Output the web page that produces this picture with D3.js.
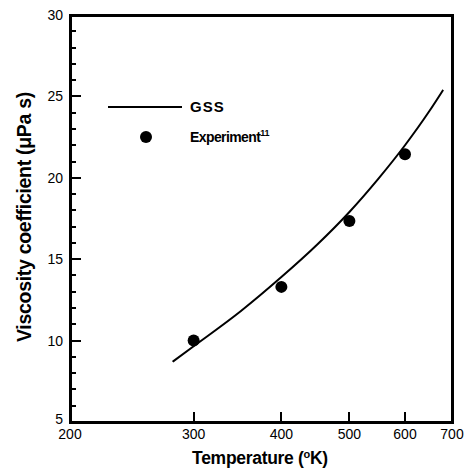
<!DOCTYPE html>
<html>
<head>
<meta charset="utf-8">
<script src="https://cdnjs.cloudflare.com/ajax/libs/d3/7.8.5/d3.min.js"></script>
<style>
	body { margin: 0; background: #fff; }
</style>
</head>
<body>
<div id="chart"></div>
<script>
	"use strict";

	// GSS model curve
	var gssTemp = [280, 300, 350, 400, 450, 500, 550, 600, 650, 680],
		gssVisc = [8.7, 9.65, 11.8, 13.9, 15.9, 17.9, 19.95, 22.0, 24.1, 25.4];

	// experiment (ref. 11)
	var expTemp = [300, 400, 500, 600],
		expVisc = [10.0, 13.3, 17.35, 21.45];

	var xTicks = [200, 300, 400, 500, 600, 700],
		yTicks = [5, 10, 15, 20, 25, 30],
		yMinor = d3.range(5, 31, 1);

	var font = "'Liberation Sans', Arial, sans-serif",
		plotLeft = 70,
		plotRight = 452,
		plotTop = 15,
		plotBottom = 422;

	var x = d3.scaleLog()
			.domain([200, 700])
			.range([plotLeft, plotRight]),
		y = d3.scaleLinear()
			.domain([5, 30])
			.range([plotBottom, plotTop]);

	var svg = d3.select("#chart")
		.append("svg")
		.attr("width", 467)
		.attr("height", 470)
		.attr("font-family", font);

	// inward tick marks, snapped to whole pixels
	var ticks = svg.append("g")
		.attr("stroke", "#000")
		.attr("shape-rendering", "crispEdges");

	ticks.selectAll("line.y-minor")
		.data(yMinor)
		.enter()
		.append("line")
		.attr("class", "y-minor")
		.attr("x1", plotLeft).attr("x2", plotLeft + 6)
		.attr("y1", function(d) { return Math.round(y(d)); })
		.attr("y2", function(d) { return Math.round(y(d)); })
		.attr("stroke-width", 2);

	ticks.selectAll("line.y-major")
		.data(yTicks)
		.enter()
		.append("line")
		.attr("class", "y-major")
		.attr("x1", plotLeft).attr("x2", plotLeft + 11)
		.attr("y1", function(d) { return Math.round(y(d)); })
		.attr("y2", function(d) { return Math.round(y(d)); })
		.attr("stroke-width", 2.5);

	ticks.selectAll("line.x-major")
		.data(xTicks)
		.enter()
		.append("line")
		.attr("class", "x-major")
		.attr("x1", function(d) { return Math.round(x(d)); })
		.attr("x2", function(d) { return Math.round(x(d)); })
		.attr("y1", plotBottom).attr("y2", plotBottom - 10)
		.attr("stroke-width", 2.5);

	// tick labels
	svg.selectAll("text.y-label")
		.data(yTicks)
		.enter()
		.append("text")
		.attr("class", "y-label")
		.attr("x", plotLeft - 7)
		.attr("y", function(d) { return y(d) + (d === 5 ? 2 : 5); })
		.attr("text-anchor", "end")
		.attr("font-size", 14)
		.text(function(d) { return d; });

	svg.selectAll("text.x-label")
		.data(xTicks)
		.enter()
		.append("text")
		.attr("class", "x-label")
		.attr("x", function(d) { return x(d); })
		.attr("y", plotBottom + 17)
		.attr("text-anchor", "middle")
		.attr("font-size", 14)
		.text(function(d) { return d; });

	// frame
	svg.append("rect")
		.attr("x", plotLeft)
		.attr("y", plotTop)
		.attr("width", plotRight - plotLeft)
		.attr("height", plotBottom - plotTop)
		.attr("fill", "none")
		.attr("stroke", "#000")
		.attr("stroke-width", 3)
		.attr("shape-rendering", "crispEdges");

	// GSS curve
	var line = d3.line()
		.x(function(d, i) { return x(gssTemp[i]); })
		.y(function(d) { return y(d); })
		.curve(d3.curveMonotoneX);

	svg.append("path")
		.datum(gssVisc)
		.attr("d", line)
		.attr("fill", "none")
		.attr("stroke", "#000")
		.attr("stroke-width", 2);

	// experiment points
	svg.selectAll("circle.exp")
		.data(expVisc)
		.enter()
		.append("circle")
		.attr("class", "exp")
		.attr("cx", function(d, i) { return x(expTemp[i]); })
		.attr("cy", function(d) { return y(d); })
		.attr("r", 6)
		.attr("fill", "#000");

	// legend
	svg.append("line")
		.attr("x1", 108).attr("x2", 182)
		.attr("y1", 107).attr("y2", 107)
		.attr("stroke", "#000")
		.attr("stroke-width", 2);
	svg.append("text")
		.attr("x", 190).attr("y", 112)
		.attr("font-size", 15)
		.attr("font-weight", "bold")
		.attr("letter-spacing", 1)
		.text("GSS");
	svg.append("circle")
		.attr("cx", 146).attr("cy", 137)
		.attr("r", 6)
		.attr("fill", "#000");
	var expLabel = svg.append("text")
		.attr("x", 190).attr("y", 142)
		.attr("font-size", 14)
		.attr("font-weight", "bold")
		.attr("letter-spacing", -0.6);
	expLabel.append("tspan").text("Experiment");
	expLabel.append("tspan")
		.attr("font-size", 9)
		.attr("dy", -6)
		.attr("letter-spacing", -0.3)
		.text("11");

	// axis titles
	var xTitle = svg.append("text")
		.attr("x", 260)
		.attr("y", 464)
		.attr("text-anchor", "middle")
		.attr("font-size", 17.5)
		.attr("font-weight", "bold")
		.attr("letter-spacing", -0.3);
	xTitle.append("tspan").text("Temperature (");
	xTitle.append("tspan").attr("font-size", 11).attr("dy", -6).text("o");
	xTitle.append("tspan").attr("dy", 6).text("K)");

	svg.append("text")
		.attr("transform", "translate(31,217) rotate(-90)")
		.attr("text-anchor", "middle")
		.attr("font-size", 19.5)
		.attr("font-weight", "bold")
		.attr("letter-spacing", -0.3)
		.text("Viscosity coefficient (\u03bcPa s)");
</script>
</body>
</html>
